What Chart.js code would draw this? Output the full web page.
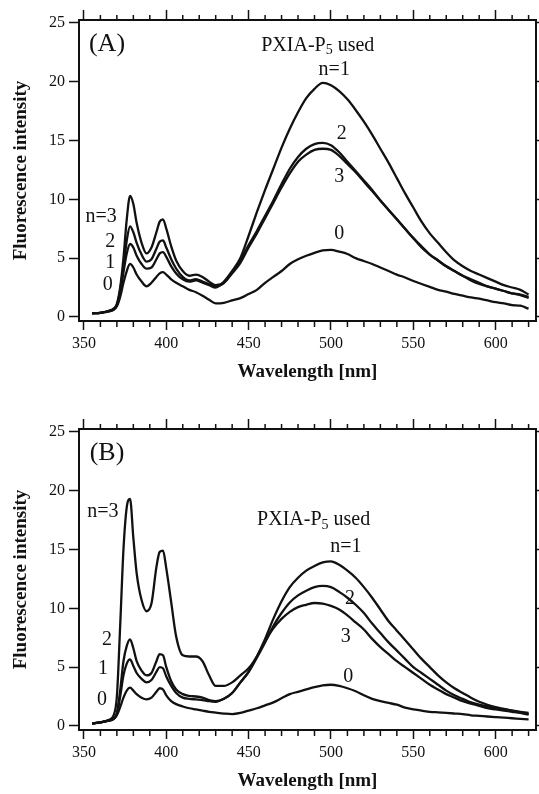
<!DOCTYPE html>
<html>
<head>
<meta charset="utf-8">
<script src="https://cdn.jsdelivr.net/npm/chart.js@4.4.0/dist/chart.umd.min.js"></script>
<style>
  html, body { margin: 0; padding: 0; background: #fff; }
  body { width: 539px; height: 794px; position: relative; overflow: hidden; }
  canvas { position: absolute; left: 0; }
  #panelA { top: 0; }
  #panelB { top: 409px; }
</style>
</head>
<body>
<canvas id="panelA" width="539" height="385"></canvas>
<canvas id="panelB" width="539" height="385"></canvas>
<script>
// wavelength grid [nm], shared by every spectrum
const wavelengths = [
  355, 360, 365, 368, 370, 372, 374, 376, 378, 380, 382, 385, 388, 391, 394, 396, 398, 400,
  403, 406, 410, 414, 418, 422, 426, 430,
  435, 440, 445, 450, 455, 460, 465, 470, 475, 480, 485, 490, 495, 500,
  505, 510, 515, 520, 525, 530, 535, 540, 545, 550, 555, 560, 565, 570, 575, 580, 585, 590, 595, 600, 605, 610, 615, 620
];

// panel (A)
const panelA_n0 = [
  0.3, 0.35, 0.45, 0.6, 0.9, 1.7, 2.9, 3.9, 4.5, 4.2, 3.6, 3.0, 2.6, 2.9, 3.4, 3.7, 3.8, 3.6,
  3.2, 2.9, 2.6, 2.3, 2.1, 1.8, 1.45, 1.15,
  1.2, 1.4, 1.6, 1.95, 2.3, 2.9, 3.4, 3.9, 4.5, 4.9, 5.2, 5.45, 5.65, 5.7,
  5.55, 5.35, 5.0, 4.75, 4.5, 4.2, 3.9, 3.6, 3.35, 3.05, 2.8, 2.55, 2.3, 2.15, 1.95, 1.8, 1.65, 1.55, 1.4, 1.25, 1.15, 1.0, 0.95, 0.7
];
const panelA_n1 = [
  0.3, 0.35, 0.5, 0.65, 1.0, 2.1, 3.8, 5.4, 6.2, 5.9, 5.2, 4.5, 4.1, 4.2, 4.9, 5.4, 5.5, 5.1,
  4.3, 3.7, 3.2, 3.0, 3.1, 2.9, 2.7, 2.5,
  3.0, 3.9, 5.0, 6.9, 8.9, 10.8, 12.6, 14.4, 16.0, 17.4, 18.6, 19.4, 19.9, 19.7,
  19.2, 18.5, 17.6, 16.6, 15.5, 14.3, 13.1, 11.8, 10.5, 9.3, 8.1, 7.1, 6.3, 5.5, 4.8, 4.3, 3.9, 3.6, 3.3, 3.0, 2.7, 2.5, 2.3, 1.9
];
const panelA_n2 = [
  0.3, 0.35, 0.5, 0.65, 1.0, 2.3, 4.3, 6.5, 7.7, 7.2, 6.3, 5.3, 4.7, 4.9, 5.8, 6.4, 6.5, 5.9,
  4.9, 4.1, 3.4, 3.1, 3.2, 3.0, 2.8, 2.6,
  2.9, 3.8, 4.8, 6.1, 7.3, 8.6, 9.9, 11.3, 12.6, 13.6, 14.3, 14.7, 14.8, 14.6,
  14.0, 13.2, 12.4, 11.6, 10.8, 9.9, 9.1, 8.3, 7.5, 6.7, 5.9, 5.3, 4.8, 4.3, 3.9, 3.5, 3.1, 2.8, 2.6, 2.4, 2.2, 2.0, 1.9, 1.7
];
const panelA_n3 = [
  0.3, 0.35, 0.5, 0.7, 1.1, 2.5, 5.0, 8.3, 10.3, 9.6, 8.0, 6.3, 5.4, 5.9, 7.2, 8.1, 8.3, 7.5,
  6.0, 4.8, 3.9, 3.5, 3.6, 3.4, 3.0, 2.7,
  2.9, 3.7, 4.6, 5.9, 7.1, 8.4, 9.7, 11.0, 12.2, 13.2, 13.8, 14.2, 14.3, 14.2,
  13.7, 13.0, 12.3, 11.5, 10.7, 9.9, 9.1, 8.3, 7.5, 6.7, 6.0, 5.3, 4.8, 4.3, 3.9, 3.5, 3.2, 2.9, 2.6, 2.4, 2.2, 2.0, 1.85, 1.6
];

// panel (B)
const panelB_n0 = [
  0.2, 0.3, 0.45, 0.6, 0.9, 1.6, 2.4, 3.0, 3.25, 3.0, 2.7, 2.4, 2.26, 2.4, 2.9, 3.2, 3.1, 2.6,
  2.1, 1.85, 1.65, 1.5, 1.4, 1.3, 1.2, 1.13,
  1.05, 1.0, 1.1, 1.3, 1.5, 1.75, 2.0, 2.35, 2.7, 2.9, 3.1, 3.3, 3.45, 3.5,
  3.4, 3.2, 2.95, 2.6, 2.3, 2.1, 1.95, 1.8, 1.55, 1.4, 1.3, 1.2, 1.15, 1.1, 1.05, 1.0, 0.9, 0.85, 0.8, 0.75, 0.7, 0.65, 0.6, 0.55
];
const panelB_n1 = [
  0.2, 0.3, 0.45, 0.6, 1.0, 2.5, 4.3, 5.3, 5.65, 5.1, 4.5, 4.0, 3.7, 3.9, 4.6, 5.0, 4.9, 4.2,
  3.4, 2.8, 2.4, 2.3, 2.25, 2.2, 2.1, 2.05,
  2.3, 2.8, 3.7, 4.6, 5.9, 7.4, 9.1, 10.6, 11.8, 12.6, 13.2, 13.6, 13.9, 14.0,
  13.7, 13.2, 12.6, 11.8, 10.9, 9.9, 8.9, 8.1, 7.3, 6.5, 5.7, 5.0, 4.3, 3.7, 3.2, 2.8, 2.4, 2.05, 1.8, 1.6, 1.45, 1.3, 1.2, 1.1
];
const panelB_n2 = [
  0.2, 0.3, 0.45, 0.6, 1.1, 3.0, 5.5, 6.8, 7.35, 6.6, 5.5, 4.7, 4.3, 4.5, 5.5, 6.1, 6.0, 5.0,
  3.8, 3.1, 2.7, 2.55, 2.5, 2.4, 2.2, 2.1,
  2.3, 2.8, 3.7, 4.6, 5.8, 7.1, 8.5, 9.6, 10.5, 11.1, 11.5, 11.8, 11.9, 11.8,
  11.4, 10.9, 10.3, 9.6, 8.7, 7.9, 7.1, 6.4, 5.7, 5.0, 4.5, 4.0, 3.5, 3.0, 2.6, 2.3, 2.0, 1.8, 1.65, 1.5, 1.4, 1.3, 1.15, 1.0
];
const panelB_n3 = [
  0.2, 0.3, 0.5, 0.9, 2.5, 8.5, 15.0, 18.6, 19.3, 16.0, 13.0, 10.7, 9.75, 10.4, 13.5, 14.8, 14.9, 13.4,
  10.5, 7.6, 6.0, 5.9, 5.9, 5.5, 4.3, 3.4,
  3.4, 3.7, 4.3, 4.9, 5.9, 7.2, 8.3, 9.1, 9.7, 10.1, 10.3, 10.45, 10.4, 10.2,
  9.9, 9.4, 8.8, 8.2, 7.4, 6.7, 6.1, 5.5, 5.0, 4.5, 4.0, 3.5, 3.1, 2.7, 2.4, 2.1, 1.9, 1.7, 1.5, 1.4, 1.3, 1.2, 1.1, 0.95
];

// axis ticks
const xTicks = [350, 400, 450, 500, 550, 600];
const xMinorTicks = [360, 370, 380, 390, 410, 420, 430, 440, 460, 470, 480, 490,
  510, 520, 530, 540, 560, 570, 580, 590, 610, 620];
const yTicks = [0, 5, 10, 15, 20, 25];

// text written inside the plots (in data units)
const notesA = [
  { text: 'PXIA-P', sub: '5', tail: ' used', x: 492, y: 23.1 },
  { text: 'n=1', x: 502, y: 21.0 },
  { text: '2', x: 506.5, y: 15.6 },
  { text: '3', x: 505, y: 11.9 },
  { text: '0', x: 505, y: 7.1 },
  { text: 'n=3', x: 360.5, y: 8.5 },
  { text: '2', x: 366, y: 6.4 },
  { text: '1', x: 366, y: 4.6 },
  { text: '0', x: 364.5, y: 2.7 }
];
const notesB = [
  { text: 'n=3', x: 361.5, y: 18.2 },
  { text: 'PXIA-P', sub: '5', tail: ' used', x: 489.5, y: 17.5 },
  { text: 'n=1', x: 509, y: 15.2 },
  { text: '2', x: 511.5, y: 10.8 },
  { text: '3', x: 509, y: 7.6 },
  { text: '0', x: 510.5, y: 4.2 },
  { text: '2', x: 364, y: 7.3 },
  { text: '1', x: 361.5, y: 4.9 },
  { text: '0', x: 361, y: 2.2 }
];

const serif = '"Liberation Serif", "Times New Roman", serif';
const ink = '#111';

function drawNote(ctx, n, px, py) {
  ctx.textBaseline = 'middle';
  if (n.sub) {
    ctx.font = '20px ' + serif;
    const w1 = ctx.measureText(n.text).width;
    const w3 = ctx.measureText(n.tail).width;
    ctx.font = '14px ' + serif;
    const w2 = ctx.measureText(n.sub).width;
    const sx = px - (w1 + w2 + w3) / 2;
    ctx.textAlign = 'left';
    ctx.font = '20px ' + serif;
    ctx.fillText(n.text, sx, py);
    ctx.fillText(n.tail, sx + w1 + w2, py);
    ctx.font = '14px ' + serif;
    ctx.fillText(n.sub, sx + w1, py + 5);
  } else {
    ctx.font = '20px ' + serif;
    ctx.textAlign = 'center';
    ctx.fillText(n.text, px, py);
  }
}

function makePanel(id, series, notes, letter) {
  const frame = { display: true, color: ink, width: 2 };
  const setX = s => { s.ticks = xTicks.map(v => ({ value: v })); };
  const setY = s => { s.ticks = yTicks.map(v => ({ value: v })); };

  const decor = {
    id: 'decor',
    afterDraw(chart) {
      const { ctx, chartArea: area, scales: { x, y } } = chart;
      ctx.save();
      // minor ticks on bottom and top
      ctx.strokeStyle = ink;
      ctx.lineWidth = 1.5;
      ctx.beginPath();
      xMinorTicks.forEach(v => {
        const px = x.getPixelForValue(v);
        ctx.moveTo(px, area.bottom);
        ctx.lineTo(px, area.bottom + 6);
        ctx.moveTo(px, area.top);
        ctx.lineTo(px, area.top - 5);
      });
      ctx.stroke();
      ctx.fillStyle = ink;
      ctx.font = '26px ' + serif;
      ctx.textAlign = 'center';
      ctx.textBaseline = 'middle';
      ctx.fillText(letter, area.left + 28, area.top + 24);
      notes.forEach(n => drawNote(ctx, n, x.getPixelForValue(n.x), y.getPixelForValue(n.y)));
      ctx.restore();
    }
  };

  return new Chart(document.getElementById(id), {
    type: 'line',
    data: {
      datasets: series.map(vals => ({
        data: wavelengths.map((w, i) => ({ x: w, y: vals[i] })),
        borderColor: ink,
        borderWidth: 2.3,
        pointRadius: 0,
        cubicInterpolationMode: 'monotone',
        fill: false
      }))
    },
    options: {
      responsive: false,
      animation: false,
      layout: { padding: 0 },
      plugins: { legend: { display: false }, tooltip: { enabled: false } },
      scales: {
        x: {
          type: 'linear', position: 'bottom', min: 347, max: 624.5,
          afterBuildTicks: setX,
          afterFit: s => { s.height = 64; },
          ticks: { color: ink, font: { family: serif, size: 16 }, padding: 4, maxRotation: 0, autoSkip: false },
          grid: { drawOnChartArea: false, tickLength: 9, tickColor: ink, tickWidth: 1.5 },
          border: frame,
          title: {
            display: true, text: 'Wavelength [nm]', color: ink,
            font: { family: serif, size: 19, weight: 'bold' }, padding: { top: 0, bottom: 2 }
          }
        },
        xTop: {
          type: 'linear', position: 'top', min: 347, max: 624.5,
          afterBuildTicks: setX,
          afterFit: s => { s.height = 20; },
          ticks: { display: false },
          grid: { drawOnChartArea: false, tickLength: 10, tickColor: ink, tickWidth: 1.5 },
          border: frame
        },
        y: {
          type: 'linear', position: 'left', min: -0.35, max: 25.25,
          afterBuildTicks: setY,
          afterFit: s => { s.width = 79; },
          ticks: { color: ink, font: { family: serif, size: 16 }, padding: 4 },
          grid: { drawOnChartArea: false, tickLength: 10, tickColor: ink, tickWidth: 1.5 },
          border: frame,
          title: {
            display: true, text: 'Fluorescence intensity', color: ink,
            font: { family: serif, size: 19, weight: 'bold' }, padding: { top: 10, bottom: 0 }
          }
        },
        yRight: {
          type: 'linear', position: 'right', min: -0.35, max: 25.25,
          afterBuildTicks: setY,
          afterFit: s => { s.width = 3; },
          ticks: { display: false },
          grid: { drawOnChartArea: false, tickLength: 5, tickColor: ink, tickWidth: 1.5 },
          border: frame
        }
      }
    },
    plugins: [decor]
  });
}

makePanel('panelA', [panelA_n0, panelA_n1, panelA_n2, panelA_n3], notesA, '(A)');
makePanel('panelB', [panelB_n0, panelB_n1, panelB_n2, panelB_n3], notesB, '(B)');
</script>
</body>
</html>
